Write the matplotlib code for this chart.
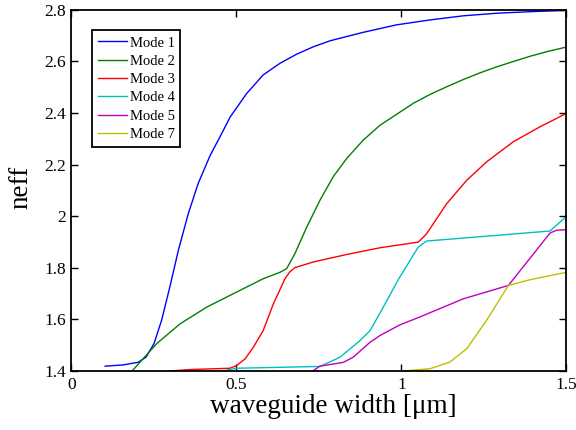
import matplotlib
matplotlib.use("Agg")
import matplotlib.pyplot as plt

# neff vs waveguide width
mode1_w = [0.102, 0.157, 0.202, 0.226, 0.25, 0.273, 0.298, 0.324, 0.354, 0.384, 0.42, 0.455,
           0.481, 0.531, 0.581, 0.632, 0.682, 0.733, 0.783, 0.884, 0.985, 1.086, 1.187, 1.288,
           1.389, 1.5]
mode1_n = [1.419, 1.424, 1.434, 1.454, 1.506, 1.596, 1.725, 1.868, 2.010, 2.127, 2.235, 2.320,
           2.385, 2.476, 2.548, 2.593, 2.628, 2.657, 2.680, 2.713, 2.742, 2.761, 2.777, 2.787,
           2.793, 2.798]

mode2_w = [0.185, 0.258, 0.329, 0.41, 0.50, 0.581, 0.632, 0.652, 0.677, 0.713, 0.753, 0.793,
           0.834, 0.884, 0.935, 0.985, 1.036, 1.086, 1.137, 1.187, 1.238, 1.288, 1.339, 1.389,
           1.44, 1.5]
mode2_n = [1.402, 1.506, 1.583, 1.648, 1.706, 1.758, 1.783, 1.797, 1.855, 1.958, 2.062, 2.153,
           2.224, 2.295, 2.353, 2.395, 2.438, 2.472, 2.502, 2.530, 2.556, 2.579, 2.600, 2.620,
           2.638, 2.656]

mode3_w = [0.293, 0.359, 0.48, 0.50, 0.526, 0.551, 0.581, 0.612, 0.647, 0.662, 0.677, 0.733,
           0.834, 0.935, 1.051, 1.076, 1.137, 1.198, 1.258, 1.339, 1.42, 1.5]
mode3_n = [1.400, 1.406, 1.411, 1.421, 1.447, 1.492, 1.557, 1.661, 1.758, 1.785, 1.801, 1.823,
           1.852, 1.878, 1.900, 1.932, 2.049, 2.140, 2.211, 2.289, 2.347, 2.399]

mode4_w = [0.455, 0.50, 0.753, 0.814, 0.874, 0.905, 0.945, 0.99, 1.051, 1.076, 1.45, 1.5]
mode4_n = [1.400, 1.411, 1.418, 1.454, 1.518, 1.557, 1.648, 1.754, 1.881, 1.904, 1.943, 2.0]

mode5_w = [0.733, 0.753, 0.824, 0.854, 0.905, 0.935, 0.995, 1.056, 1.187, 1.324, 1.45, 1.47, 1.5]
mode5_n = [1.402, 1.419, 1.434, 1.454, 1.512, 1.538, 1.579, 1.610, 1.680, 1.732, 1.935, 1.946, 1.948]

mode7_w = [1.0, 1.086, 1.147, 1.198, 1.258, 1.324, 1.389, 1.5]
mode7_n = [1.400, 1.409, 1.435, 1.487, 1.597, 1.732, 1.754, 1.783]

x_ticks = [0, 0.5, 1, 1.5]
x_labels = ['0', '0.5', '1', '1.5']
y_ticks = [1.4, 1.6, 1.8, 2.0, 2.2, 2.4, 2.6, 2.8]
y_labels = ['1.4', '1.6', '1.8', '2', '2.2', '2.4', '2.6', '2.8']

plt.rcParams['font.family'] = ['Liberation Serif', 'DejaVu Serif']

fig = plt.figure(figsize=(5.76, 4.30), dpi=100)
ax = fig.add_axes([0.124, 0.137, 0.8595, 0.840])

ax.plot(mode1_w, mode1_n, color=(0, 0, 1), lw=1.0, label='Mode 1')
ax.plot(mode2_w, mode2_n, color=(0, 0.5, 0), lw=1.0, label='Mode 2')
ax.plot(mode3_w, mode3_n, color=(1, 0, 0), lw=1.0, label='Mode 3')
ax.plot(mode4_w, mode4_n, color=(0, 0.75, 0.75), lw=1.0, label='Mode 4')
ax.plot(mode5_w, mode5_n, color=(0.75, 0, 0.75), lw=1.0, label='Mode 5')
ax.plot(mode7_w, mode7_n, color=(0.75, 0.75, 0), lw=1.0, label='Mode 7')

ax.set_xlim(0, 1.5)
ax.set_ylim(1.4, 2.8)
ax.set_xticks(x_ticks)
ax.set_xticklabels(x_labels)
ax.set_yticks(y_ticks)
ax.set_yticklabels(y_labels)
ax.tick_params(direction='in', top=True, right=True, length=5, width=1, labelsize=12.5, pad=4)
for s in ax.spines.values():
    s.set_linewidth(1.3)

ax.set_xlabel('waveguide width [\u03bcm]', fontsize=19.5, labelpad=1)
ax.xaxis.label.set_x(0.528)
ax.set_ylabel('neff', fontsize=19.5, labelpad=8)
ax.yaxis.label.set_y(0.51)

leg = ax.legend(loc='upper left', bbox_to_anchor=(0.041, 0.943), borderaxespad=0,
                fontsize=10.5, labelspacing=0.35, handlelength=2.0, handletextpad=0.2,
                fancybox=False, edgecolor='black', framealpha=1, borderpad=0.4)
leg.get_frame().set_linewidth(1.3)

fig.savefig('out.png', dpi=100)
